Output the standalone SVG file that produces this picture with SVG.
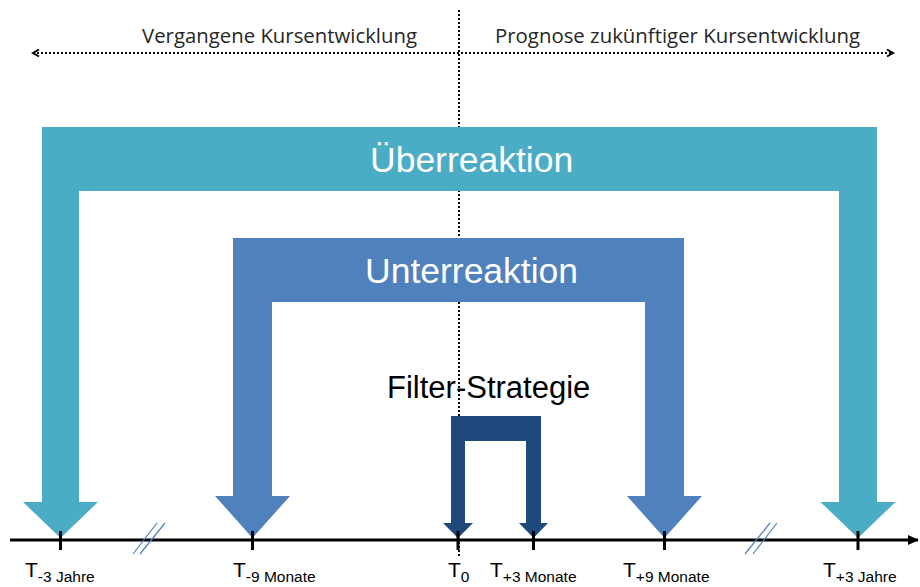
<svg xmlns="http://www.w3.org/2000/svg" width="920" height="587" viewBox="0 0 920 587">
  <style>
    .caption { font-family: "Open Sans", "Liberation Sans", sans-serif; font-size: 20.3px; fill: #262626; }
    .title { font-family: "Liberation Sans", Arial, sans-serif; font-size: 35.5px; fill: #ffffff; }
    .label { font-family: "Liberation Sans", Arial, sans-serif; font-size: 21px; fill: #000000; }
    .sub { font-size: 15.5px; }
    .dots { fill: none; stroke: #000000; stroke-width: 2; stroke-dasharray: 2 2; }
    .tick { stroke: #000000; stroke-width: 3; }
    .brk { stroke: #4f81bd; stroke-width: 1.2; }
  </style>
  <defs>
    <marker id="chev-end" viewBox="0 0 10 10" refX="8" refY="5" markerWidth="10" markerHeight="10" markerUnits="userSpaceOnUse" orient="auto">
      <path d="M2,1.5 L8,5 L2,8.5" fill="none" stroke="#000" stroke-width="2"/>
    </marker>
    <marker id="chev-start" viewBox="0 0 10 10" refX="2" refY="5" markerWidth="10" markerHeight="10" markerUnits="userSpaceOnUse" orient="auto">
      <path d="M8,1.5 L2,5 L8,8.5" fill="none" stroke="#000" stroke-width="2"/>
    </marker>
    <marker id="axis-head" viewBox="0 0 12 12" refX="10" refY="6" markerWidth="12" markerHeight="12" markerUnits="userSpaceOnUse" orient="auto">
      <path d="M0,1 L11,6 L0,11 Z" fill="#000"/>
    </marker>
  </defs>

  <rect width="920" height="587" fill="#ffffff"/>

  <!-- time direction guides -->
  <g id="connectors">
    <line id="t0-divider" class="dots" x1="459" y1="10" x2="459" y2="556"/>
    <line id="time-direction" class="dots" x1="33" y1="53" x2="893" y2="53" marker-start="url(#chev-start)" marker-end="url(#chev-end)"/>
  </g>

  <g id="caption-past">
    <text class="caption" x="142" y="43" textLength="275" lengthAdjust="spacingAndGlyphs">Vergangene Kursentwicklung</text>
  </g>
  <g id="caption-future">
    <text class="caption" x="495" y="43" textLength="365" lengthAdjust="spacingAndGlyphs">Prognose zukünftiger Kursentwicklung</text>
  </g>

  <!-- overreaction span: 3 years back / 3 years ahead -->
  <g id="ueberreaktion">
    <path fill="#4bacc6" d="M42,127 H877 V502 H895.5 L858,538 L820.5,502 H839 V191 H79 V502 H98 L60.5,538 L23,502 H42 Z"/>
    <text class="title" x="370" y="172">Überreaktion</text>
  </g>

  <!-- underreaction span: 9 months back / 9 months ahead -->
  <g id="unterreaktion">
    <path fill="#4f81bd" d="M233,238 H684 V496 H702 L664.5,538 L627,496 H645 V302 H272 V496 H290 L252.5,538 L215,496 H233 Z"/>
    <text class="title" x="365" y="283">Unterreaktion</text>
  </g>

  <!-- filter strategy: T0 to 3 months ahead -->
  <g id="filter-strategie">
    <path fill="#1f497d" d="M451,416 H541 V523 H548 L533.5,538 L519,523 H526 V441 H465 V523 H473 L458,538 L443,523 H451 Z"/>
    <text class="label" x="387" y="398" style="font-size:31px">Filter-Strategie</text>
  </g>

  <!-- time axis -->
  <g id="zeitachse">
    <line x1="10" y1="540" x2="918" y2="540" stroke="#000" stroke-width="3" marker-end="url(#axis-head)"/>
    <line class="tick" x1="60.5" y1="531" x2="60.5" y2="550"/>
    <line class="tick" x1="252.5" y1="531" x2="252.5" y2="550"/>
    <line class="tick" x1="458" y1="531" x2="458" y2="550"/>
    <line class="tick" x1="533.5" y1="531" x2="533.5" y2="550"/>
    <line class="tick" x1="664.5" y1="531" x2="664.5" y2="550"/>
    <line class="tick" x1="858" y1="531" x2="858" y2="550"/>
    <!-- scale breaks -->
    <line class="brk" x1="133" y1="554" x2="157" y2="523"/>
    <line class="brk" x1="140" y1="554" x2="165" y2="523"/>
    <line class="brk" x1="745" y1="554" x2="770" y2="523"/>
    <line class="brk" x1="753" y1="554" x2="777" y2="523"/>
  </g>

  <g id="zeitpunkte">
    <text class="label" x="25" y="577">T<tspan class="sub" dy="5">-3 Jahre</tspan></text>
    <text class="label" x="233" y="577">T<tspan class="sub" dy="5">-9 Monate</tspan></text>
    <text class="label" x="448" y="577">T<tspan class="sub" dy="5">0</tspan></text>
    <text class="label" x="490" y="577">T<tspan class="sub" dy="5">+3 Monate</tspan></text>
    <text class="label" x="623" y="577">T<tspan class="sub" dy="5">+9 Monate</tspan></text>
    <text class="label" x="823" y="577">T<tspan class="sub" dy="5">+3 Jahre</tspan></text>
  </g>
</svg>
